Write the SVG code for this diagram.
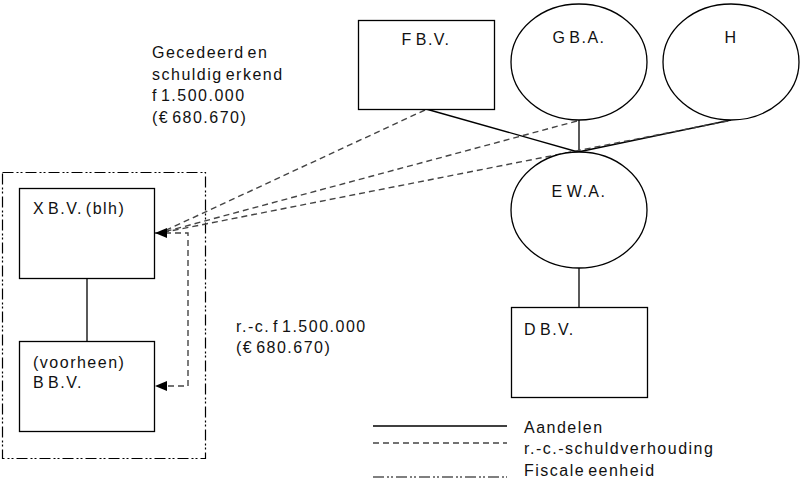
<svg xmlns="http://www.w3.org/2000/svg" width="800" height="480" viewBox="0 0 800 480">
<style>
text{font-family:"Liberation Sans",Arial,sans-serif;font-size:16px;letter-spacing:1.5px;word-spacing:-3px;fill:#111}
.node{fill:#fff;stroke:#000;stroke-width:1.3}
.solid{stroke:#000;stroke-width:1.3;fill:none}
.dash{stroke:#444;stroke-width:1.4;stroke-dasharray:6 4;fill:none}
.dashdot{stroke:#000;stroke-width:1.2;stroke-dasharray:11 3 2 2 2 3;fill:none}
.mid{text-anchor:middle}
</style>
<defs>
<marker id="arr" viewBox="0 0 12 10" refX="12" refY="5" markerWidth="12" markerHeight="10" markerUnits="userSpaceOnUse" orient="auto-start-reverse">
<path d="M0,0 L12,5 L0,10 Z" fill="#000"/>
</marker>
</defs>
<g id="fiscale-eenheid"><rect x="2.5" y="172.5" width="203" height="286" class="dashdot"/></g>
<g id="connectors">
<line x1="87" y1="278" x2="87" y2="341" class="solid"/>
<line x1="426" y1="109" x2="578" y2="152" class="solid"/>
<line x1="579" y1="120" x2="579" y2="152" class="solid"/>
<line x1="731" y1="120" x2="578" y2="152" class="solid"/>
<line x1="579" y1="268" x2="579" y2="307" class="solid"/>
<line x1="425" y1="110" x2="160" y2="233" class="dash"/>
<line x1="577" y1="121" x2="160" y2="233" class="dash"/>
<line x1="728" y1="121" x2="160" y2="233" class="dash"/>
<path d="M155,233 H188 V386 H155" class="dash" marker-start="url(#arr)" marker-end="url(#arr)"/>
</g>
<g id="X"><rect x="19.5" y="188.5" width="135" height="90" class="node"/><text x="33" y="214">X B.V. (blh)</text></g>
<g id="B"><rect x="19.5" y="341.5" width="135" height="90" class="node"/><text x="33" y="368">(voorheen)</text><text x="33" y="388">B B.V.</text></g>
<g id="F"><rect x="358.5" y="20.5" width="136" height="89" class="node"/><text x="426" y="45" class="mid">F B.V.</text></g>
<g id="G"><ellipse cx="579" cy="62" rx="68" ry="58" class="node"/><text x="579" y="43" class="mid">G B.A.</text></g>
<g id="H"><ellipse cx="731" cy="62" rx="68" ry="58" class="node"/><text x="731" y="43" class="mid">H</text></g>
<g id="E"><ellipse cx="579" cy="210" rx="68" ry="58" class="node"/><text x="579" y="197" class="mid">E W.A.</text></g>
<g id="D"><rect x="511.5" y="307.5" width="136" height="90" class="node"/><text x="524" y="335">D B.V.</text></g>
<g id="labels">
<text x="152" y="58">Gecedeerd en</text>
<text x="152" y="80">schuldig erkend</text>
<text x="152" y="101">f 1.500.000</text>
<text x="152" y="123">(€ 680.670)</text>
<text x="236" y="332">r.-c. f 1.500.000</text>
<text x="236" y="353">(€ 680.670)</text>
</g>
<g id="legend">
<line x1="373" y1="426" x2="507" y2="426" class="solid"/>
<line x1="373" y1="443" x2="507" y2="443" class="dash"/>
<line x1="373" y1="477" x2="507" y2="477" class="dashdot"/>
<text x="524" y="433">Aandelen</text>
<text x="524" y="454">r.-c.-schuldverhouding</text>
<text x="524" y="476">Fiscale eenheid</text>
</g>
</svg>
